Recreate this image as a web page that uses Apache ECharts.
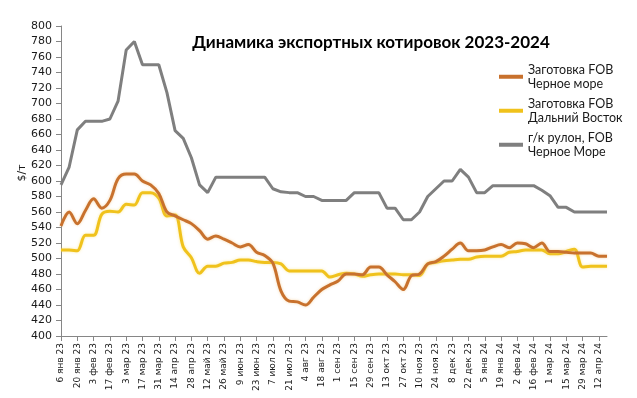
<!DOCTYPE html>
<html>
<head>
<meta charset="utf-8">
<script src="https://cdn.jsdelivr.net/npm/echarts@6/dist/echarts.min.js"></script>
<style>
html,body{margin:0;padding:0;background:#fff;}
#chart{width:637px;height:398px;}
</style>
</head>
<body>
<div id="chart"></div>
<script>

// weekly dates, every other one is shown on the axis
const weeks=[
    "6 янв 23","13 янв 23","20 янв 23","27 янв 23","3 фев 23","10 фев 23","17 фев 23","24 фев 23",
    "3 мар 23","10 мар 23","17 мар 23","24 мар 23","31 мар 23","7 апр 23","14 апр 23","21 апр 23",
    "28 апр 23","5 май 23","12 май 23","19 май 23","26 май 23","2 июн 23","9 июн 23","16 июн 23",
    "23 июн 23","30 июн 23","7 июл 23","14 июл 23","21 июл 23","28 июл 23","4 авг 23","11 авг 23",
    "18 авг 23","25 авг 23","1 сен 23","8 сен 23","15 сен 23","22 сен 23","29 сен 23","6 окт 23",
    "13 окт 23","20 окт 23","27 окт 23","3 ноя 23","10 ноя 23","17 ноя 23","24 ноя 23","1 дек 23",
    "8 дек 23","15 дек 23","22 дек 23","29 дек 23","5 янв 24","12 янв 24","19 янв 24","26 янв 24",
    "2 фев 24","9 фев 24","16 фев 24","23 фев 24","1 мар 24","8 мар 24","15 мар 24","22 мар 24",
    "29 мар 24","5 апр 24","12 апр 24","19 апр 24"
];

// Заготовка FOB Черное море
const billetBlackSea=[
    542,560,545,562,577,565,575,603,609,609,600,595,584,560,555,550,
    545,536,525,529,525,520,515,518,508,504,494,458,445,444,440,450,
    460,466,471,480,480,479,489,489,479,470,460,478,480,493,496,503,
    512,520,510,510,511,515,518,514,520,519,514,520,509,509,508,507,
    507,507,503,503
];

// Заготовка FOB Дальний Восток
const billetFarEast=[
    511,511,510,530,530,557,561,560,570,569,585,585,578,555,556,515,
    501,481,490,490,494,495,498,498,496,495,495,493,484,484,484,484,
    484,476,479,481,480,477,479,480,480,480,479,479,478,493,495,497,
    498,499,499,502,503,503,503,508,509,511,511,511,506,506,509,512,
    489,490,490,490
];

// г/к рулон, FOB Черное Море
const hrcBlackSea=[
    595,618,666,677,677,677,680,703,769,780,750,750,750,714,665,655,
    630,595,585,605,605,605,605,605,605,605,590,586,585,585,580,580,
    575,575,575,575,585,585,585,585,565,565,550,550,560,580,590,600,
    600,615,605,585,585,594,594,594,594,594,594,588,581,566,566,560,
    560,560,560,560
];

const seriesNames=[
    "Заготовка FOB\nЧерное море",
    "Заготовка FOB\nДальний Восток",
    "г/к рулон, FOB\nЧерное Море"
];

const colors=["#C8712D","#F0C21C","#7F7F7F"];

const chart=echarts.init(
    document.getElementById("chart"),
    null,
    {renderer:"canvas"}
);

// one legend per item, so the swatch sits on the first line of the name
function legendAt(name,top){

    return {
        data:[name],
        orient:"vertical",
        left:499,
        top:top,
        padding:0,
        itemWidth:24,
        itemHeight:4,
        icon:"rect",
        selectedMode:false,
        textStyle:{
            fontFamily:"Lato",
            fontSize:12.5,
            color:"#1a1a1a",
            lineHeight:14.5,
            padding:[14.5,0,0,0]
        }
    };

}

chart.setOption({

    backgroundColor:"#ffffff",

    animation:false,

    color:colors,

    title:{
        text:"Динамика экспортных котировок 2023-2024",
        left:366,
        top:29,
        textAlign:"center",
        textStyle:{
            fontFamily:"Lato",
            fontWeight:"bold",
            fontSize:17,
            color:"#000"
        }
    },

    legend:[
        legendAt(seriesNames[0],55),
        legendAt(seriesNames[1],89),
        legendAt(seriesNames[2],123)
    ],

    grid:{
        left:61,
        right:30,
        top:26,
        bottom:62
    },

    xAxis:{
        type:"category",
        data:weeks,
        boundaryGap:false,
        axisLine:{
            lineStyle:{color:"#868686",width:1}
        },
        axisTick:{
            interval:1,
            length:5,
            lineStyle:{color:"#868686"}
        },
        axisLabel:{
            interval:1,
            rotate:90,
            margin:7,
            fontFamily:"DejaVu Sans",
            fontSize:9,
            color:"#1a1a1a"
        },
        splitLine:{show:false}
    },

    yAxis:{
        type:"value",
        min:400,
        max:800,
        interval:20,
        name:"$/т",
        nameLocation:"middle",
        nameGap:33,
        nameMoveOverlap:false,
        nameTextStyle:{
            fontFamily:"DejaVu Sans",
            fontSize:11,
            color:"#1a1a1a",
            padding:[0,0,0,16]
        },
        axisLine:{
            show:true,
            lineStyle:{color:"#868686",width:1}
        },
        axisTick:{
            show:true,
            length:5,
            lineStyle:{color:"#868686"}
        },
        axisLabel:{
            margin:9,
            fontFamily:"DejaVu Sans",
            fontSize:11,
            color:"#1a1a1a"
        },
        splitLine:{show:false}
    },

    series:[
        {
            name:seriesNames[0],
            type:"line",
            data:billetBlackSea,
            smooth:0.35,
            showSymbol:false,
            lineStyle:{
                width:3,
                color:colors[0],
                shadowColor:"rgba(240,190,120,0.6)",
                shadowBlur:3
            },
            z:3
        },
        {
            name:seriesNames[1],
            type:"line",
            data:billetFarEast,
            smooth:0.35,
            showSymbol:false,
            lineStyle:{
                width:3,
                color:colors[1],
                shadowColor:"rgba(250,225,120,0.7)",
                shadowBlur:3
            },
            z:2
        },
        {
            name:seriesNames[2],
            type:"line",
            data:hrcBlackSea,
            showSymbol:false,
            lineStyle:{
                width:3,
                color:colors[2]
            },
            z:1
        }
    ]

});

</script>
</body>
</html>
